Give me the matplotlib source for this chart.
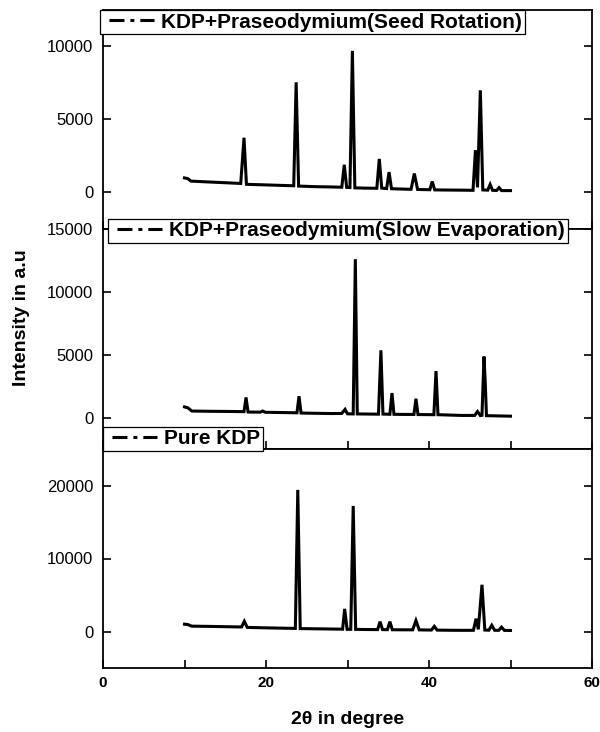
import numpy as np
import matplotlib
matplotlib.use("Agg")
import matplotlib.pyplot as plt
from matplotlib.lines import Line2D

plt.rcParams['font.family'] = ['Liberation Sans', 'DejaVu Sans']

# 2theta / intensity
seed_x = [10.0, 10.4, 10.8, 13.0, 15.0, 16.9, 17.3, 17.6, 20.0, 23.4, 23.7, 24.0, 26.0, 28.0, 29.3,
          29.6, 29.9, 30.3, 30.6, 30.9, 32.0, 33.6, 33.9, 34.2, 34.8, 35.1, 35.4, 37.0, 37.8, 38.2,
          38.6, 40.1, 40.4, 40.7, 42.0, 44.0, 45.4, 45.7, 45.95, 46.3, 46.6, 47.2, 47.5, 47.8, 48.3,
          48.6, 48.9, 50.0]
seed_y = [1000, 950, 780, 720, 670, 620, 3750, 560, 520, 460, 7550, 440, 400, 380, 360,
          1900, 350, 340, 9700, 320, 300, 290, 2300, 300, 270, 1400, 260, 230, 220, 1300,
          210, 190, 750, 180, 170, 160, 150, 2900, 350, 7000, 180, 160, 550, 150, 140,
          330, 130, 130]

slow_x = [10.0, 10.4, 10.9, 13.0, 15.0, 17.3, 17.55, 17.8, 19.3, 19.6, 19.9, 22.0, 23.8, 24.05,
          24.3, 26.0, 28.0, 29.3, 29.7, 30.0, 30.7, 30.96, 31.2, 32.5, 33.8, 34.1, 34.35, 35.2,
          35.46, 35.7, 37.0, 38.15, 38.4, 38.65, 40.6, 40.86, 41.1, 42.5, 44.0, 45.6, 45.95, 46.3,
          46.5, 46.75, 46.9, 47.05, 48.0, 50.0]
slow_y = [850, 780, 520, 500, 490, 470, 1600, 440, 430, 520, 420, 400, 380, 1700,
          360, 340, 320, 330, 650, 300, 290, 12600, 290, 280, 270, 5350, 280, 260,
          1950, 260, 250, 250, 1500, 240, 230, 3700, 230, 200, 170, 170, 480, 160,
          180, 4850, 2800, 150, 140, 110]

pure_x = [10.0, 10.4, 10.9, 13.0, 15.0, 17.0, 17.34, 17.7, 20.0, 23.6, 23.9, 24.2, 26.0, 28.0,
          29.4, 29.65, 29.95, 30.4, 30.7, 31.0, 32.5, 33.7, 33.99, 34.3, 34.9, 35.2, 35.5, 37.0,
          38.0, 38.4, 38.8, 40.3, 40.65, 41.0, 42.5, 44.0, 45.45, 45.77, 46.05, 46.5, 46.85, 47.35,
          47.7, 48.05, 48.55, 48.9, 49.25, 50.0]
pure_y = [1000, 950, 730, 700, 660, 620, 1400, 560, 500, 420, 19400, 400, 370, 340,
          320, 3100, 300, 300, 17200, 290, 270, 260, 1350, 260, 250, 1350, 240, 230,
          230, 1500, 220, 200, 700, 190, 170, 160, 160, 1750, 300, 6400, 200, 180,
          850, 170, 160, 600, 150, 140]

labels = ["KDP+Praseodymium(Seed Rotation)", "KDP+Praseodymium(Slow Evaporation)", "Pure KDP"]
ylims = [(-2500, 12500), (-2500, 15000), (-5000, 25000)]
yticks = [[0, 5000, 10000], [0, 5000, 10000, 15000], [0, 10000, 20000]]

W, H = 600, 732
fig = plt.figure(figsize=(6, 7.32), dpi=100)
left, right = 103 / W, 592 / W
panels = [(10, 229), (229, 449), (449, 668)]
legend_pos = [(100, 10), (108, 219), (103, 427)]
series = [(seed_x, seed_y), (slow_x, slow_y), (pure_x, pure_y)]

for i in range(3):
    top_px, bot_px = panels[i]
    ax = fig.add_axes([left, 1 - bot_px / H, right - left, (bot_px - top_px) / H])
    x, y = series[i]
    ax.plot(x, y, color='black', lw=2.2, solid_joinstyle='miter')
    ax.set_xlim(0, 60)
    ax.set_ylim(*ylims[i])
    ax.set_yticks(yticks[i])
    ax.set_xticks(np.arange(0, 61, 10))
    if i == 2:
        ax.set_xticklabels(['0', '', '20', '', '40', '', '60'], fontweight='bold', fontsize=11)
    else:
        ax.tick_params(labelbottom=False)
    ax.tick_params(direction='in', length=6, width=1.2, right=True, top=False, pad=7)
    ax.tick_params(axis='y', labelsize=12)
    ax.tick_params(axis='x', pad=6)
    for s in ax.spines.values():
        s.set_linewidth(1.3)

    h = Line2D([], [], color='black', lw=2.2,
               linestyle=(8.15, (4.9, 1.95, 1.3, 1.95)), dash_capstyle='butt')
    lx, ly = legend_pos[i]
    leg = ax.legend([h], [labels[i]], loc='upper left', bbox_to_anchor=(lx / W, 1 - ly / H),
                    bbox_transform=fig.transFigure, borderaxespad=0, borderpad=0.12,
                    handlelength=2.49, handletextpad=0.34, fancybox=False, framealpha=1,
                    edgecolor='black', prop={'weight': 'bold', 'size': 15})
    leg.get_frame().set_linewidth(0.9)

fig.text(347.5 / W, 1 - 719 / H, "2\u03b8 in degree", ha='center', va='center',
         fontsize=14, fontweight='bold')
fig.text(21 / W, 1 - 318 / H, "Intensity in a.u", ha='center', va='center', rotation=90,
         fontsize=14, fontweight='bold')

fig.savefig("out.png", dpi=100)
